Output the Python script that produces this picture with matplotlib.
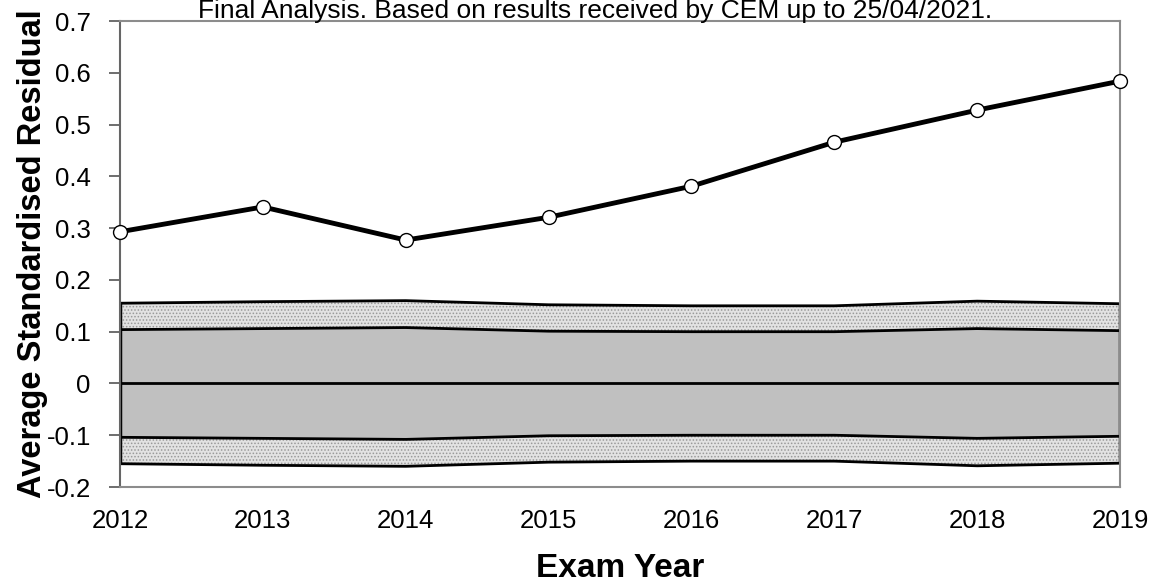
import matplotlib
matplotlib.use('Agg')
import matplotlib.pyplot as plt
import numpy as np

plt.rcParams['font.family'] = ['Liberation Sans', 'DejaVu Sans']
plt.rcParams['hatch.linewidth'] = 0.7

# data
years = [2012, 2013, 2014, 2015, 2016, 2017, 2018, 2019]
residual = [0.293, 0.341, 0.277, 0.321, 0.381, 0.466, 0.528, 0.584]
band_outer = [0.155, 0.158, 0.160, 0.152, 0.150, 0.150, 0.159, 0.154]
band_inner = [0.104, 0.106, 0.108, 0.101, 0.100, 0.100, 0.106, 0.102]
yticks = [-0.2, -0.1, 0, 0.1, 0.2, 0.3, 0.4, 0.5, 0.6, 0.7]
ytick_labels = ['-0.2', '-0.1', '0', '0.1', '0.2', '0.3', '0.4', '0.5', '0.6', '0.7']

outer = np.array(band_outer)
inner = np.array(band_inner)

fig = plt.figure(figsize=(11.57, 5.82), dpi=100)
ax = fig.add_axes([0.1037, 0.1632, 0.8643, 0.8006])

# stippled outer band
ax.fill_between(years, inner, outer, facecolor='#e2e2e2', hatch='.....',
                edgecolor='#999999', linewidth=0, zorder=1)
ax.fill_between(years, -outer, -inner, facecolor='#e2e2e2', hatch='.....',
                edgecolor='#999999', linewidth=0, zorder=1)
# solid inner band
ax.fill_between(years, -inner, inner, facecolor='#c0c0c0', linewidth=0, zorder=1)

# band outlines
for edge in [outer, inner, -inner, -outer]:
    ax.plot(years, edge, color='black', lw=2, zorder=2)
ax.vlines([years[0], years[-1]], -outer[[0, -1]], outer[[0, -1]],
          color='black', lw=2.5, zorder=2)
ax.axhline(0, color='black', lw=2, zorder=2)

# residual line
ax.plot(years, residual, color='black', lw=3.5, marker='o', markersize=10,
        markerfacecolor='white', markeredgecolor='black', markeredgewidth=1,
        zorder=5, clip_on=False)

ax.set_xlim(2012, 2019)
ax.set_ylim(-0.2, 0.7)
ax.set_yticks(yticks)
ax.set_yticklabels(ytick_labels)
ax.set_xticks(years)
ax.set_xticklabels([str(y) for y in years])

for s in ax.spines.values():
    s.set_color('#8c8c8c')
    s.set_linewidth(1.5)
ax.spines['left'].set_color('#666666')

ax.tick_params(axis='y', direction='out', length=8, width=1.2, color='#555555',
               pad=13, labelsize=18.5)
ax.tick_params(axis='x', length=0, pad=16, labelsize=18.5)

# small ticks on the zero line
zero_ax = ax.secondary_xaxis(0.2 / 0.9)
zero_ax.set_xticks(years)
zero_ax.set_xticklabels([])
zero_ax.tick_params(direction='out', length=7, width=1.2, color='#555555')
zero_ax.spines['bottom'].set_visible(False)

ax.set_ylabel('Average Standardised Residual', fontsize=23.5, fontweight='bold')
ax.yaxis.set_label_coords(-0.072, 0.5)
ax.set_xlabel('Exam Year', fontsize=24, fontweight='bold', labelpad=14)

fig.text(0.514, 0.969, 'Final Analysis. Based on results received by CEM up to 25/04/2021.',
         ha='center', va='baseline', fontsize=19)

fig.savefig('out.png', dpi=100)
